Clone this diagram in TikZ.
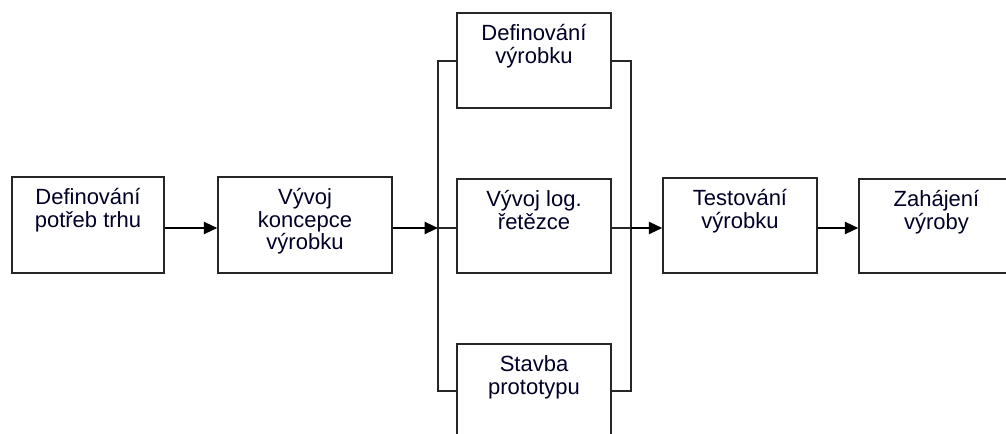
\documentclass[tikz,border=0pt]{standalone}
\usepackage{fontspec}
\setmainfont{Liberation Sans}
\usetikzlibrary{arrows.meta}

% boxes are given by their corners in pixel units: name, x1, y1, x2, y2, caption
\newcommand\procbox[6]{%
  \node[boxst, minimum width={(#4-#2)*0.75pt}, minimum height={(#5-#3)*0.75pt}]
    (#1) at ({(#2+#4)/2},{(#3+#5)/2}) {};
  \node[txt] (#1t) at (#1.north) {\rule{0pt}{21pt}#6};}

\begin{document}
\begin{tikzpicture}[x=0.75pt, y=-0.75pt,
  boxst/.style={draw=black!85, line width=1.1pt, inner sep=0pt, rectangle},
  txt/.style={anchor=north, inner sep=0pt, align=center,
    text=black!85!blue, font=\fontsize{16.5pt}{17pt}\selectfont},
  conn/.style={draw=black!85, line width=1.1pt},
  flow/.style={draw=black, line width=1.6pt, -{Triangle[length=10pt,width=9pt]}}]
\useasboundingbox (0,0) rectangle (1006,434);
\clip (0,0) rectangle (1006,434);

\procbox{b1}{12}{177}{164}{273}{Definování\\potřeb trhu}
\procbox{b2}{218}{177}{392}{273}{Vývoj\\koncepce\\výrobku}
\procbox{b3}{457}{13}{611}{108}{Definování\\výrobku}
\procbox{b4}{457}{179}{611}{273}{Vývoj log.\\řetězce}
\procbox{b5}{457}{344}{611}{470}{Stavba\\prototypu}
\procbox{b6}{663}{178}{817}{273}{Testování\\výrobku}
\procbox{b7}{859}{179}{1014}{273}{Zahájení\\výroby}

% split and join rails of the parallel branch
\coordinate (sL) at (438,228);
\coordinate (sR) at (631,228);
\path[conn] (b3.west |- 0,61) -| (438,228) |- (b5.west |- 0,391);
\path[conn] (b3.east |- 0,61) -| (631,228) |- (b5.east |- 0,391);
\path[conn] (b4.west |- sL) -- (sL);
\path[conn] (b4.east |- sR) -- (sR);

% main flow
\path[flow] (b1.east |- 0,228) -- (b2.west |- 0,228);
\path[flow] (b2.east |- sL) -- (sL);
\path[flow] (sR) -- (b6.west |- sR);
\path[flow] (b6.east |- 0,228) -- (b7.west |- 0,228);
\end{tikzpicture}
\end{document}
